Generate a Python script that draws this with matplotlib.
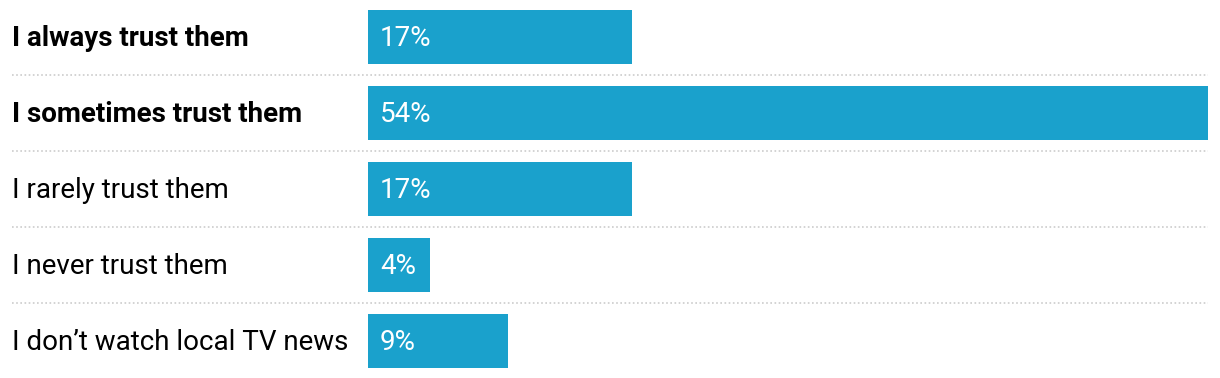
import matplotlib.pyplot as plt
import matplotlib.transforms as mtransforms

# survey answers and shares (%)
labels = [
    "I always trust them",
    "I sometimes trust them",
    "I rarely trust them",
    "I never trust them",
    "I don\u2019t watch local TV news",
]
values = [17, 54, 17, 4, 9]
bold_rows = [True, True, False, False, False]

W, H = 1220, 378
bar_color = "#1aa1cc"

plt.rcParams["font.family"] = ["Roboto", "DejaVu Sans"]

fig = plt.figure(figsize=(W / 100, H / 100), dpi=100)
ax = fig.add_axes([368 / W, 0, 840 / W, 1])

pitch = 76
top_pad = 37 / pitch
ypos = list(range(len(values)))
ax.barh(ypos, values, height=54 / pitch, color=bar_color, left=0)
ax.set_xlim(0, max(values))
ax.set_ylim(len(values) - 1 + top_pad, -top_pad)
ax.axis("off")

blend = mtransforms.blended_transform_factory(fig.transFigure, ax.transData)
dy = 2 / pitch  # nudge text down a touch
for y, lab, v, b in zip(ypos, labels, values, bold_rows):
    ax.text(12 / W, y + dy, lab, transform=blend, ha="left", va="center",
            fontsize=20, fontweight="bold" if b else "normal", color="black")
    ax.text(380 / W, y + dy, f"{v}%", transform=blend, ha="left", va="center",
            fontsize=20, color="white")

# dotted separators between rows
for y in ypos[:-1]:
    ax.plot([12 / W, 1208 / W], [y + 0.5, y + 0.5], transform=blend,
            linestyle=(0, (1, 1.5)), color="#cccccc", lw=1.2, clip_on=False)

fig.savefig("out.png", dpi=100)
